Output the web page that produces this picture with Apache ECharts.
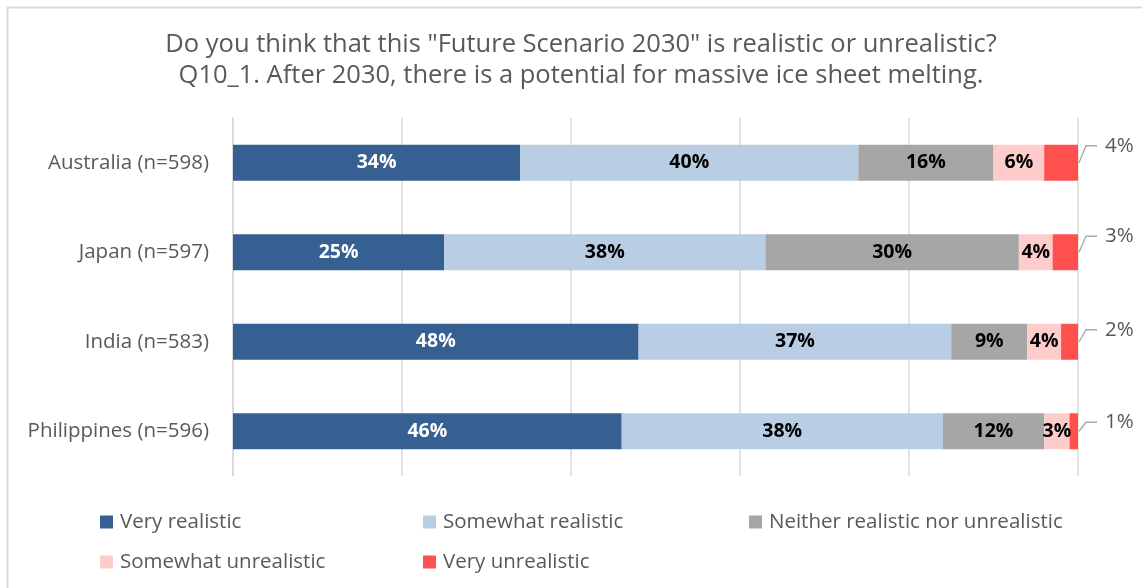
<!DOCTYPE html>
<html>
<head>
<meta charset="utf-8">
<script src="https://cdn.jsdelivr.net/npm/echarts@6/dist/echarts.min.js"></script>
<style>
  html, body { margin: 0; padding: 0; background: #fff; }
  #chart { width: 1142px; height: 588px; }
</style>
</head>
<body>
<div id="chart"></div>
<script>
// Survey responses, percent of respondents per country
const countries = ['Australia (n=598)', 'Japan (n=597)', 'India (n=583)', 'Philippines (n=596)'];
const veryRealistic        = [34, 25, 48, 46];
const somewhatRealistic    = [40, 38, 37, 38];
const neitherRealistic     = [16, 30, 9, 12];
const somewhatUnrealistic  = [6, 4, 4, 3];
const veryUnrealistic      = [4, 3, 2, 1];
const seriesNames = ['Very realistic', 'Somewhat realistic', 'Neither realistic nor unrealistic',
                     'Somewhat unrealistic', 'Very unrealistic'];

// Styling
const colors = ['#366092', '#B9CDE5', '#A6A6A6', '#FFCCCC', '#FF5050'];
const labelColors = ['#ffffff', '#000000', '#000000', '#000000'];
const textGray = '#595959';
const font = '"Open Sans", "Noto Sans", sans-serif';
const textSize = 20.5;
// vertical rise of the callout line for the outside labels, per row
const calloutRise = [17, 16, 12, 9];

const chart = echarts.init(document.getElementById('chart'), null, { renderer: 'canvas' });

const values = [veryRealistic, somewhatRealistic, neitherRealistic, somewhatUnrealistic, veryUnrealistic];

const barSeries = values.map((arr, k) => ({
  name: seriesNames[k],
  type: 'bar',
  stack: 'total',
  barWidth: 36,
  itemStyle: { color: colors[k] },
  label: k < 4 ? {
    show: true,
    position: 'inside',
    formatter: p => p.value + '%',
    color: labelColors[k],
    fontFamily: font,
    fontWeight: 'bold',
    fontSize: 19.5
  } : { show: false },
  emphasis: { disabled: true },
  data: arr
}));

// Callout labels for the last segment, anchored at the bar end
const calloutSeries = {
  type: 'custom',
  silent: true,
  z: 5,
  encode: { x: 0, y: 1 },
  data: veryUnrealistic.map((v, i) => [100, i, v]),
  renderItem: function (params, api) {
    const p = api.coord([api.value(0), api.value(1)]);
    const i = params.dataIndex;
    const rise = calloutRise[i];
    const x0 = p[0] + 1, y0 = p[1];
    const x1 = p[0] + 8, y1 = p[1] - rise;
    const x2 = p[0] + 19;
    return {
      type: 'group',
      children: [
        {
          type: 'polyline',
          shape: { points: [[x0, y0], [x1, y1], [x2, y1]] },
          style: { stroke: '#A6A6A6', lineWidth: 1.3, fill: null }
        },
        {
          type: 'text',
          style: {
            x: p[0] + 27, y: y1,
            text: api.value(2) + '%',
            fill: textGray,
            font: textSize + 'px ' + font,
            textAlign: 'left',
            textVerticalAlign: 'middle'
          }
        }
      ]
    };
  }
};

// Legend laid out as a grid: three columns, two rows
const legendSlots = [
  { left: 100, top: 511 },
  { left: 423, top: 511 },
  { left: 749, top: 511 },
  { left: 100, top: 551 },
  { left: 423, top: 551 }
];
const legends = seriesNames.map((n, k) => ({
  data: [n],
  left: legendSlots[k].left,
  top: legendSlots[k].top,
  icon: 'rect',
  itemWidth: 13,
  itemHeight: 13,
  padding: 0,
  selectedMode: false,
  textStyle: { fontFamily: font, fontSize: textSize, color: textGray, lineHeight: 22, padding: [0, 0, 0, 2] }
}));

chart.setOption({
  animation: false,
  backgroundColor: '#ffffff',
  title: {
    text: 'Do you think that this "Future Scenario 2030" is realistic or unrealistic?\nQ10_1. After 2030, there is a potential for massive ice sheet melting.',
    left: 581,
    textAlign: 'center',
    top: 29,
    padding: 0,
    textStyle: { fontFamily: font, fontSize: 25.5, fontWeight: 'normal', color: textGray, lineHeight: 31 }
  },
  legend: legends,
  grid: { left: 233, right: 64, top: 118, bottom: 112, containLabel: false },
  xAxis: {
    type: 'value',
    min: 0, max: 100, interval: 20,
    axisLabel: { show: false },
    axisLine: { show: false },
    axisTick: { show: false },
    splitLine: { show: true, lineStyle: { color: '#D9D9D9', width: 1.5 } }
  },
  yAxis: {
    type: 'category',
    inverse: true,
    data: countries,
    axisTick: { show: false },
    axisLine: { show: true, lineStyle: { color: '#D9D9D9', width: 1.5 } },
    axisLabel: { fontFamily: font, fontSize: textSize, color: textGray, margin: 24 }
  },
  graphic: [{
    type: 'rect',
    silent: true,
    shape: { x: 7.5, y: 7.5, width: 1300, height: 700 },
    style: { fill: null, stroke: '#D9D9D9', lineWidth: 2 }
  }],
  series: barSeries.concat([calloutSeries])
});
</script>
</body>
</html>
